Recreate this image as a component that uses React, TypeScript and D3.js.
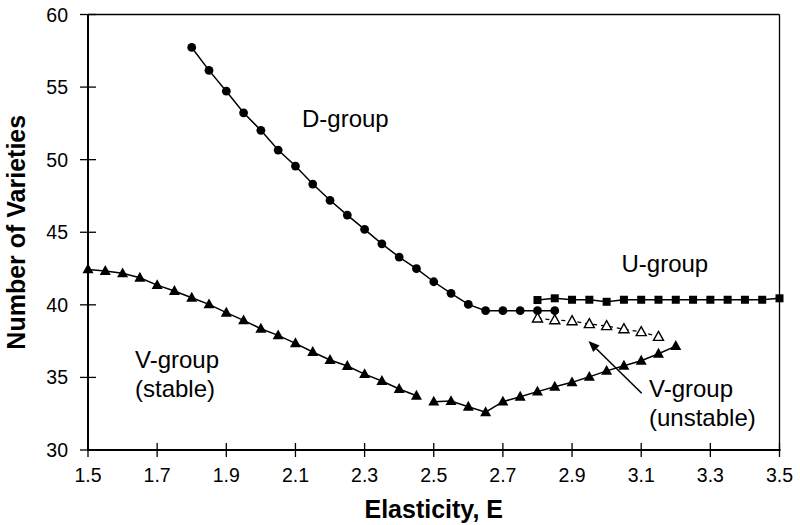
import React from "react";
import * as d3 from "d3";

// Elasticity values (x) and the number of varieties for each group
const dGroupE = [1.8, 1.85, 1.9, 1.95, 2.0, 2.05, 2.1, 2.15, 2.2, 2.25, 2.3, 2.35, 2.4, 2.45, 2.5, 2.55, 2.6, 2.65, 2.7, 2.75, 2.8, 2.85];
const dGroupN = [57.73, 56.15, 54.72, 53.23, 52.02, 50.66, 49.56, 48.32, 47.2, 46.18, 45.2, 44.2, 43.29, 42.49, 41.59, 40.79, 40.03, 39.6, 39.6, 39.6, 39.6, 39.6];

const uGroupE = [2.8, 2.85, 2.9, 2.95, 3.0, 3.05, 3.1, 3.15, 3.2, 3.25, 3.3, 3.35, 3.4, 3.45, 3.5];
const uGroupN = [40.33, 40.45, 40.35, 40.35, 40.21, 40.35, 40.35, 40.35, 40.35, 40.35, 40.35, 40.35, 40.35, 40.35, 40.45];

// stable V-group is drawn as two separate runs
const vStableE1 = [1.5, 1.55, 1.6, 1.65, 1.7, 1.75, 1.8, 1.85, 1.9, 1.95, 2.0, 2.05, 2.1, 2.15, 2.2, 2.25, 2.3, 2.35, 2.4, 2.45];
const vStableN1 = [42.44, 42.33, 42.17, 41.87, 41.36, 40.95, 40.49, 40.03, 39.46, 38.93, 38.35, 37.9, 37.35, 36.75, 36.2, 35.79, 35.23, 34.75, 34.2, 33.74];
const vStableE2 = [2.5, 2.55, 2.6, 2.65, 2.7, 2.75, 2.8, 2.85, 2.9, 2.95, 3.0, 3.05, 3.1, 3.15, 3.2];
const vStableN2 = [33.33, 33.37, 32.98, 32.6, 33.33, 33.67, 34.02, 34.36, 34.66, 35.04, 35.45, 35.8, 36.15, 36.63, 37.16];

const vUnstableE = [2.8, 2.85, 2.9, 2.95, 3.0, 3.05, 3.1, 3.15];
const vUnstableN = [39.07, 38.95, 38.88, 38.68, 38.54, 38.33, 38.13, 37.8];

const xTicks = [1.5, 1.7, 1.9, 2.1, 2.3, 2.5, 2.7, 2.9, 3.1, 3.3, 3.5];
const yTicks = [30, 35, 40, 45, 50, 55, 60];

const W = 800;
const H = 525;
const FONT = "'Liberation Sans', Arial, Helvetica, sans-serif";

const x = d3.scaleLinear().domain([1.5, 3.5]).range([88, 779.5]);
const y = d3.scaleLinear().domain([30, 60]).range([450, 14.5]);

type P = [number, number];
const zip = (xs: number[], ys: number[]): P[] => xs.map((v, i) => [v, ys[i]]);

const line = d3
  .line<P>()
  .x((d) => x(d[0]))
  .y((d) => y(d[1]));

const triPath = (cx: number, cy: number, s: number) => {
  const h = s * 0.9;
  return `M${cx},${cy - h * 0.6}L${cx + s / 2},${cy + h * 0.4}L${cx - s / 2},${cy + h * 0.4}Z`;
};

export default function App() {
  const dPts = zip(dGroupE, dGroupN);
  const uPts = zip(uGroupE, uGroupN);
  const s1 = zip(vStableE1, vStableN1);
  const s2 = zip(vStableE2, vStableN2);
  const unst = zip(vUnstableE, vUnstableN);

  // annotation arrow pointing at the unstable branch
  const ax1 = 641.7, ay1 = 393.3, ax2 = 588.5, ay2 = 341;
  const ang = Math.atan2(ay2 - ay1, ax2 - ax1);
  const ah = 11, aw = 4.5;
  const bx = ax2 - ah * Math.cos(ang), by = ay2 - ah * Math.sin(ang);
  const arrowHead = `M${ax2},${ay2}L${bx + aw * Math.sin(ang)},${by - aw * Math.cos(ang)}L${bx - aw * Math.sin(ang)},${by + aw * Math.cos(ang)}Z`;

  return (
    <svg width={W} height={H} style={{ display: "block", position: "absolute", left: 0, top: 0, background: "#fff" }}>
      {/* frame: top and right */}
      <line x1={x(1.5)} x2={x(3.5)} y1={y(60)} y2={y(60)} stroke="#000" strokeWidth={1.3} />
      <line x1={x(3.5)} x2={x(3.5)} y1={y(60)} y2={y(30)} stroke="#000" strokeWidth={1.3} />

      {/* axes */}
      <line x1={x(1.5)} x2={x(1.5)} y1={y(60)} y2={y(30) + 1} stroke="#000" strokeWidth={2} />
      <line x1={x(1.5) - 1} x2={x(3.5) + 1} y1={y(30)} y2={y(30)} stroke="#000" strokeWidth={2} />

      {xTicks.map((t) => (
        <g key={"x" + t}>
          <line x1={x(t)} x2={x(t)} y1={y(30) - 7} y2={y(30) + 7} stroke="#000" strokeWidth={1.3} />
          <text x={x(t)} y={482} textAnchor="middle" fontFamily={FONT} fontSize={19.5} fill="#000">
            {t.toFixed(1)}
          </text>
        </g>
      ))}
      {yTicks.map((t) => (
        <g key={"y" + t}>
          <line x1={x(1.5) - 8} x2={x(1.5) + 8} y1={y(t)} y2={y(t)} stroke="#000" strokeWidth={1.3} />
          <text x={68} y={y(t) + 7} textAnchor="end" fontFamily={FONT} fontSize={19.5} fill="#000">
            {t}
          </text>
        </g>
      ))}

      {/* axis titles */}
      <text x={(x(1.5) + x(3.5)) / 2} y={518} textAnchor="middle" fontFamily={FONT} fontWeight="bold" fontSize={25} fill="#000">
        Elasticity, E
      </text>
      <text transform={`translate(25,${(y(30) + y(60)) / 2}) rotate(-90)`} textAnchor="middle" fontFamily={FONT} fontWeight="bold" fontSize={25} fill="#000">
        Number of Varieties
      </text>

      {/* U-group */}
      <path d={line(uPts) || ""} fill="none" stroke="#000" strokeWidth={1.5} />
      {uPts.map((p, i) => (
        <rect key={"u" + i} x={x(p[0]) - 4} y={y(p[1]) - 4} width={8} height={8} fill="#000" />
      ))}

      {/* D-group */}
      <path d={line(dPts) || ""} fill="none" stroke="#000" strokeWidth={1.5} />
      {dPts.map((p, i) => (
        <circle key={"d" + i} cx={x(p[0])} cy={y(p[1])} r={4.4} fill="#000" />
      ))}

      {/* V-group stable */}
      <path d={line(s1) || ""} fill="none" stroke="#000" strokeWidth={1.5} />
      <path d={line(s2) || ""} fill="none" stroke="#000" strokeWidth={1.5} />
      {[...s1, ...s2].map((p, i) => (
        <path key={"s" + i} d={triPath(x(p[0]), y(p[1]), 11)} fill="#000" />
      ))}

      {/* V-group unstable */}
      <path d={line(unst) || ""} fill="none" stroke="#000" strokeWidth={1.3} strokeDasharray="4,4" />
      {unst.map((p, i) => (
        <path key={"v" + i} d={triPath(x(p[0]), y(p[1]), 10)} fill="#fff" stroke="#000" strokeWidth={1.4} />
      ))}

      {/* arrow */}
      <line x1={ax1} y1={ay1} x2={bx} y2={by} stroke="#000" strokeWidth={1.6} />
      <path d={arrowHead} fill="#000" />

      {/* group labels */}
      <g fontFamily={FONT} fontSize={24} fill="#000">
        <text x={302} y={126.7}>D-group</text>
        <text x={621.5} y={271.7}>U-group</text>
        <text x={135} y={368.3}>V-group</text>
        <text x={135} y={397}>(stable)</text>
        <text x={649} y={396.7}>V-group</text>
        <text x={649} y={426}>(unstable)</text>
      </g>
    </svg>
  );
}
